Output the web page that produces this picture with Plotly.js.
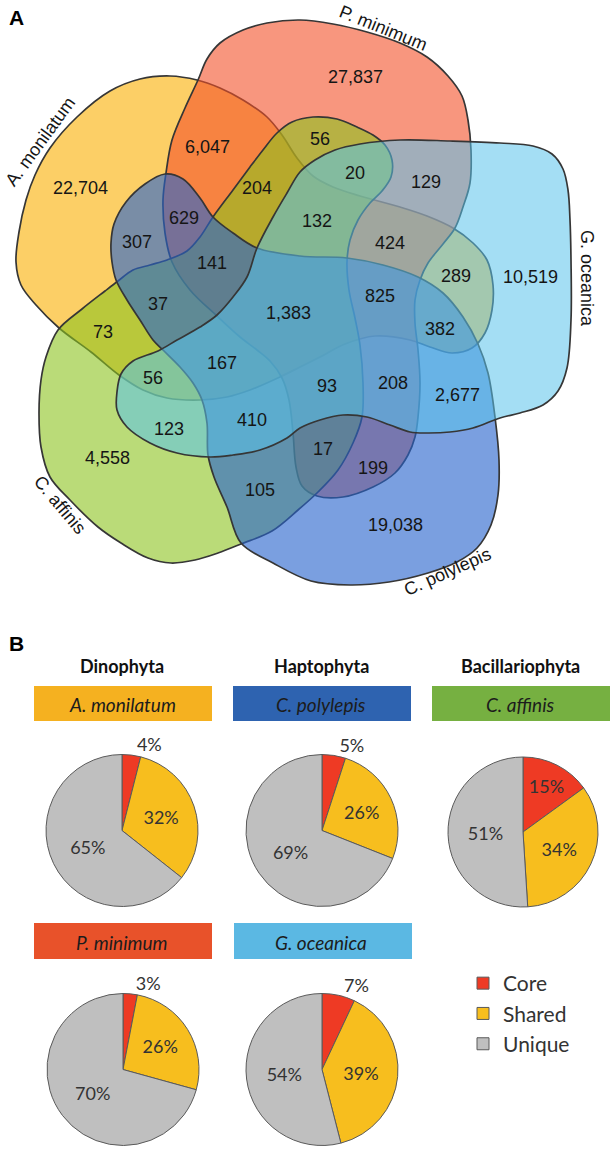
<!DOCTYPE html>
<html><head><meta charset="utf-8">
<script src="https://cdn.plot.ly/plotly-3.0.1.min.js"></script>
<style>html,body{margin:0;padding:0;background:#fff}#chart{width:610px;height:1150px}</style>
</head><body><div id="chart"></div>
<script>
// ---------------- DATA ----------------
// Panel A: five-set Venn diagram
const setNames = ['A. monilatum', 'P. minimum', 'C. affinis', 'C. polylepis', 'G. oceanica'];
const regionCounts = [27837, 6047, 56, 20, 129, 22704, 204, 629, 132, 424, 307, 141, 289, 10519, 825,
                      37, 1383, 73, 382, 167, 56, 93, 208, 2677, 123, 410, 4558, 17, 199, 105, 19038];

// Panel B: pies
const phyla = ['Dinophyta', 'Haptophyta', 'Bacillariophyta'];
const pieSpecies = ['A. monilatum', 'C. polylepis', 'C. affinis', 'P. minimum', 'G. oceanica'];
const categories = ['Core', 'Shared', 'Unique'];
const corePct   = [4, 5, 15, 3, 7];
const sharedPct = [32, 26, 34, 26, 39];
const uniquePct = [65, 69, 51, 70, 54];

// ---------------- LAYOUT / GEOMETRY ----------------
const W = 610, H = 1150, VH = 600;
// label positions for the Venn regions (same order as regionCounts), in pixel units of the Venn panel
const regionPos = [[355,77],[207,147],[320,139],[355,173],[426,182],[80,188],[257,188],[184,218],[317,221],[390,243],
  [137,242],[212,263],[456,276],[530,277],[380,296],[158,304],[288,313],[103,332],[440,329],[222,363],
  [153,378],[327,386],[393,383],[457,395],[169,429],[252,420],[107,458],[323,449],[373,468],[260,490],[395,525]];
// set-name label placement: [x, y, angle]
const setLabelPos = [[40,142,-54],[383,28,22],[60,505,50],[447,572,-24],[587,278,90]];
// outlines of the five sets (drawing order A, P, Ca, Cp, G)
const outlines = {
 'A. monilatum': [[16,262],[19,232],[26,200],[35,175],[50,148],[77,117],[110,91],[140,79],[170,76],[197,80],[220,88],[243,100],[267,117],[282,135],[297,158],[313,176],[333,187],[360,196],[400,207],[427,216],[453,228],[473,243],[487,260],[493,285],[492,310],[485,333],[472,348],[452,353],[430,347],[410,340],[375,336],[345,344],[320,357],[300,367],[280,377],[250,390],[227,397],[200,400],[167,398],[143,390],[119,375],[91,352],[59,328],[36,305],[21,285]],
 'P. minimum': [[300,20],[333,24],[367,32],[400,43],[427,57],[448,76],[462,96],[468,120],[471,150],[470,183],[463,207],[455,228],[443,244],[428,263],[420,280],[415,300],[415,323],[418,350],[420,383],[418,417],[415,437],[408,455],[395,473],[373,487],[343,497],[317,496],[302,486],[296,467],[293,433],[289,400],[282,378],[270,361],[257,350],[240,337],[217,316],[190,290],[172,262],[165,233],[163,200],[166,173],[172,140],[185,108],[198,80],[207,59],[220,43],[243,30],[267,23]],
 'C. affinis': [[39,413],[41,380],[46,357],[58,330],[82,309],[105,291],[118,281],[133,270],[150,265],[167,260],[187,251],[200,237],[213,217],[233,190],[250,167],[263,150],[277,133],[292,122],[313,117],[337,119],[357,127],[373,135],[385,145],[392,160],[391,177],[382,191],[370,203],[358,220],[350,240],[347,262],[349,290],[355,318],[360,345],[363,383],[362,417],[353,443],[338,470],[318,492],[298,510],[272,531],[241,544],[218,553],[195,560],[171,563],[148,558],[121,543],[98,527],[70,500],[50,477],[41,447]],
 'C. polylepis': [[350,585],[311,581],[273,563],[241,543],[227,507],[214,477],[208,455],[207,423],[202,400],[193,383],[180,367],[163,350],[153,340],[140,320],[127,300],[116,280],[112,262],[111,243],[114,224],[126,202],[145,184],[165,174],[183,179],[200,198],[213,217],[233,233],[257,248],[300,256],[347,258],[383,265],[418,277],[443,293],[463,317],[478,344],[488,373],[495,417],[499,460],[498,495],[491,525],[477,548],[457,562],[428,573],[389,582]],
 'G. oceanica': [[400,140],[450,141],[500,143],[533,146],[552,154],[563,169],[568,190],[570,220],[571,260],[571,320],[567,368],[558,391],[543,405],[520,413],[500,418],[473,428],[450,432],[427,433],[410,432],[390,425],[367,417],[343,415],[320,420],[300,428],[287,438],[260,450],[233,455],[210,457],[177,453],[150,443],[127,427],[117,410],[117,392],[121,374],[133,361],[158,351],[177,340],[200,327],[217,315],[233,297],[247,277],[257,248],[273,217],[287,193],[300,172],[315,160],[335,150],[360,144]]
};
const drawOrder = ['A. monilatum', 'P. minimum', 'C. affinis', 'C. polylepis', 'G. oceanica'];
const setFill = {
 'A. monilatum': 'rgba(250,175,0,0.6)',
 'P. minimum':   'rgba(243,80,40,0.6)',
 'C. affinis':   'rgba(140,195,30,0.6)',
 'C. polylepis': 'rgba(40,100,205,0.62)',
 'G. oceanica':  'rgba(90,195,235,0.55)'
};
// pie cells in pixels [x0, x1, y0, y1]
const pieCells = [[46,198,754,907],[246,398,754,907],[448,598,756,908],[47,199,993,1146],[246,398,993,1146]];
const boxCells = [[34,212,686,721],[233,411,686,721],[432,612,686,721],[34,212,923,959],[234,412,923,959]];
const boxColors = ['#F5B120','#2E63B0','#76B041','#E8522A','#5BB8E3'];
const phylumX = [122, 321, 520];
const sliceColors = ['#EE3A24', '#F7BE1E', '#BFBFBF'];

// ---------------- BUILD ----------------
const px = x => x / W, py = y => 1 - y / H;
const traces = [];
drawOrder.forEach(name => {
  const pts = outlines[name].concat([outlines[name][0]]);
  traces.push({
    type: 'scatter', mode: 'lines', xaxis: 'x', yaxis: 'y',
    x: pts.map(p => p[0]), y: pts.map(p => p[1]),
    fill: 'toself', fillcolor: setFill[name],
    line: {color: '#363636', width: 1.7, shape: 'spline', smoothing: 1},
    hoverinfo: 'skip', showlegend: false, name: name
  });
});

pieSpecies.forEach((sp, i) => {
  const c = pieCells[i];
  traces.push({
    type: 'pie', name: sp, labels: categories,
    values: [corePct[i], sharedPct[i], uniquePct[i]],
    sort: false, direction: 'clockwise', rotation: 0,
    marker: {colors: sliceColors, line: {color: '#5a5a5a', width: 1}},
    texttemplate: '%{value}%',
    textposition: corePct[i] < 10 ? ['outside', 'inside', 'inside'] : ['inside', 'inside', 'inside'],
    insidetextorientation: 'horizontal',
    textfont: {family: 'Lato, Open Sans, sans-serif', size: 18, color: '#333'},
    outsidetextfont: {family: 'Lato, Open Sans, sans-serif', size: 18, color: '#333'},
    domain: {x: [px(c[0]), px(c[1])], y: [py(c[3]), py(c[2])]},
    showlegend: i === 0, hoverinfo: 'skip'
  });
});

const annotations = [];
const ann = o => annotations.push(Object.assign({showarrow: false, xanchor: 'center', yanchor: 'middle'}, o));
regionCounts.forEach((v, i) => {
  ann({xref: 'x', yref: 'y', x: regionPos[i][0], y: regionPos[i][1],
    text: v.toLocaleString('en-US'),
    font: {family: 'Liberation Sans, Arial, sans-serif', size: 18, color: '#151515'}});
});
setNames.forEach((n, i) => {
  const p = setLabelPos[i];
  ann({xref: 'x', yref: 'y', x: p[0], y: p[1], text: n, textangle: p[2],
    font: {family: 'Liberation Sans, Arial, sans-serif', size: 18, color: '#151515'}});
});
ann({xref: 'paper', yref: 'paper', x: px(16), y: py(17), text: '<b>A</b>',
  font: {family: 'Liberation Sans, Arial, sans-serif', size: 21, color: '#000'}});
ann({xref: 'paper', yref: 'paper', x: px(16), y: py(643), text: '<b>B</b>',
  font: {family: 'Liberation Sans, Arial, sans-serif', size: 21, color: '#000'}});
phyla.forEach((p, i) => {
  ann({xref: 'paper', yref: 'paper', x: px(phylumX[i]), y: py(666), text: '<b>' + p + '</b>',
    font: {family: 'Lato, Open Sans, sans-serif', size: 18, color: '#111'}});
});
const shapes = [];
pieSpecies.forEach((sp, i) => {
  const b = boxCells[i];
  shapes.push({type: 'rect', xref: 'paper', yref: 'paper', x0: px(b[0]), x1: px(b[1]), y0: py(b[3]), y1: py(b[2]),
    fillcolor: boxColors[i], line: {width: 0}, layer: 'below'});
  ann({xref: 'paper', yref: 'paper', x: px(phylumX[i % 3]), y: py((b[2] + b[3]) / 2 + 1),
    text: '<i>' + sp + '</i>',
    font: {family: 'Lato, Open Sans, sans-serif', size: 19, color: '#1c1c1c'}});
});

const layout = {
  width: W, height: H, margin: {l: 0, r: 0, t: 0, b: 0},
  paper_bgcolor: '#fff', plot_bgcolor: 'rgba(0,0,0,0)',
  xaxis: {range: [0, W], domain: [0, 1], visible: false, fixedrange: true},
  yaxis: {range: [VH, 0], domain: [1 - VH / H, 1], visible: false, fixedrange: true},
  showlegend: true,
  legend: {x: px(463), xanchor: 'left', y: py(963), yanchor: 'top', bgcolor: 'rgba(0,0,0,0)',
    font: {family: 'Lato, Open Sans, sans-serif', size: 21, color: '#333'}},
  annotations: annotations, shapes: shapes
};
Plotly.newPlot('chart', traces, layout, {displayModeBar: false, staticPlot: true});
</script></body></html>
